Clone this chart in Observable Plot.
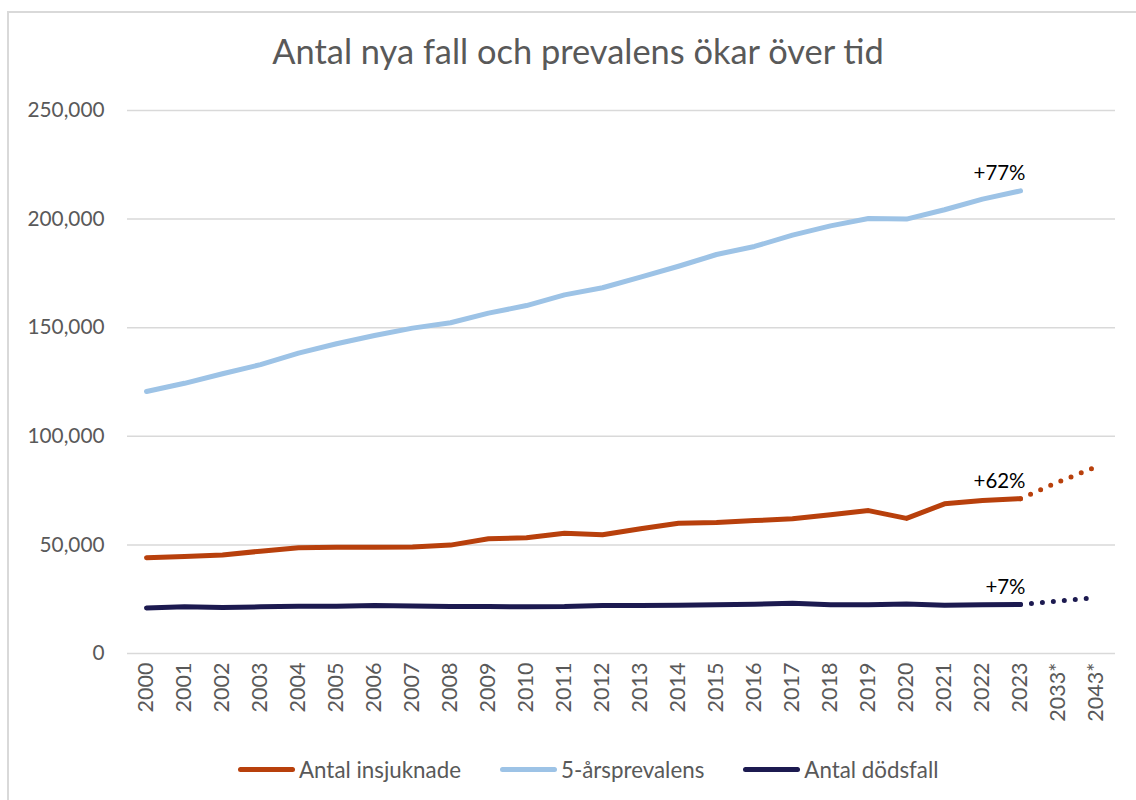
<!DOCTYPE html>
<html>
<head>
<meta charset="utf-8">
<script src="https://cdn.jsdelivr.net/npm/d3@7"></script>
<script src="https://cdn.jsdelivr.net/npm/@observablehq/plot@0.6"></script>
<style>
  body { margin: 0; background: #fff; }
  #wrap { position: relative; width: 1136px; height: 800px; overflow: hidden; font-family: Lato, "Open Sans", sans-serif; }
  #frame { position: absolute; left: 7px; top: 11px; width: 1200px; height: 900px; border-top: 2px solid #d9d9d9; border-left: 2px solid #d9d9d9; box-sizing: border-box; }
  #title { position: absolute; left: 0; top: 30px; width: 1156px; text-align: center; color: #595959; white-space: nowrap; }
  #chart { position: absolute; left: 0; top: 90px; }
  #legend { position: absolute; left: 238px; top: 756px; display: flex; align-items: center; color: #595959; white-space: nowrap; }
  .item { display: flex; align-items: center; margin-right: 39px; }
  .sw { width: 57px; height: 5px; border-radius: 3px; margin-right: 4px; }
</style>
</head>
<body>
<div id="wrap">
  <div id="frame"></div>
  <div id="title"></div>
  <div id="chart"></div>
  <div id="legend"></div>
</div>
<script>
// ---- data ----
const titleText = "Antal nya fall och prevalens ökar över tid";
const years = ["2000","2001","2002","2003","2004","2005","2006","2007","2008","2009","2010","2011","2012","2013","2014","2015","2016","2017","2018","2019","2020","2021","2022","2023"];
const projectionYears = ["2033*","2043*"];
const categories = [...years, ...projectionYears];
const seriesNames = ["Antal insjuknade","5-årsprevalens","Antal dödsfall"];
const seriesColors = ["#B8400C","#9DC3E6","#1C1A50"];
const incidence = [44100,44700,45400,47100,48700,48900,48900,49000,49900,52800,53300,55400,54700,57400,60000,60300,61200,62000,63900,65800,62200,68900,70400,71300];
const prevalence = [120600,124400,128800,133000,138300,142600,146400,149800,152300,156700,160200,165100,168400,173300,178300,183700,187400,192600,196900,200300,200000,204300,209200,213000];
const deaths = [21000,21500,21200,21500,21800,21800,22100,21900,21600,21600,21500,21600,22100,22100,22200,22400,22700,23100,22500,22500,22800,22200,22500,22600];
const incidenceProjection = [79000,86000];
const deathsProjection = [24200,25800];
const changeLabels = ["+62%","+77%","+7%"];
const yTicks = [0,50000,100000,150000,200000,250000];

// ---- helpers ----
const ctx = document.createElement("canvas").getContext("2d");
function fit(text, family, target) {
  ctx.font = `100px ${family}`;
  return 100 * target / ctx.measureText(text).width;
}
const FAM = 'Lato';
const titleSize = fit(titleText, FAM, 613);
const yTickSize = fit("250,000", FAM, 77);
const xTickSize = fit("2000", FAM, 50);
const legendSize = fit("Antal insjuknade", FAM, 162);
const annSize = fit("+77%", FAM, 52);

// ---- title ----
const t = document.getElementById("title");
t.textContent = titleText;
t.style.fontSize = titleSize + "px";

// ---- tables ----
const allSeries = [incidence, prevalence, deaths];
const lineData = [];
allSeries.forEach((vals, s) => vals.forEach((v, i) => lineData.push({series: seriesNames[s], cat: years[i], value: v})));
const projData = [];
[[incidence, incidenceProjection, 0], [deaths, deathsProjection, 2]].forEach(([hist, proj, s]) => {
  projData.push({series: seriesNames[s], cat: years[years.length - 1], value: hist[hist.length - 1]});
  proj.forEach((v, i) => projData.push({series: seriesNames[s], cat: projectionYears[i], value: v}));
});
const annData = allSeries.map((vals, s) => ({series: seriesNames[s], cat: years[years.length - 1], value: vals[vals.length - 1], label: changeLabels[s]}));

const color = {domain: seriesNames, range: seriesColors};

const chart = Plot.plot({
  width: 1136,
  height: 660,
  marginLeft: 127,
  marginRight: 21,
  marginTop: 20,
  marginBottom: 97,
  style: {fontFamily: FAM, background: "transparent", overflow: "visible"},
  x: {type: "band", domain: categories, padding: 0, label: null},
  y: {domain: [0, 250000], label: null},
  color,
  marks: [
    Plot.ruleY(yTicks, {stroke: "#d9d9d9", strokeWidth: 1.5}),
    Plot.axisY({ticks: yTicks, tickSize: 0, tickPadding: 23, tickFormat: d3.format(","), fontSize: yTickSize, fill: "#595959", label: null}),
    Plot.axisX({tickSize: 0, tickPadding: 9, tickRotate: -90, fontSize: xTickSize, fill: "#595959", label: null}),
    Plot.line(projData, {x: "cat", y: "value", z: "series", stroke: "series", strokeWidth: 5, strokeDasharray: "0 11", strokeLinecap: "round"}),
    Plot.line(lineData, {x: "cat", y: "value", z: "series", stroke: "series", strokeWidth: 5, strokeLinecap: "round", strokeLinejoin: "round"}),
    Plot.text(annData, {x: "cat", y: "value", text: "label", textAnchor: "end", dx: 5, dy: -17, fontSize: annSize, fill: "#000"})
  ]
});
document.getElementById("chart").appendChild(chart);

// ---- legend ----
const lg = document.getElementById("legend");
lg.style.fontSize = legendSize + "px";
seriesNames.forEach((n, i) => {
  const it = document.createElement("div");
  it.className = "item";
  const sw = document.createElement("div");
  sw.className = "sw";
  sw.style.background = seriesColors[i];
  const tx = document.createElement("span");
  tx.textContent = n;
  it.appendChild(sw); it.appendChild(tx);
  lg.appendChild(it);
});
</script>
</body>
</html>
